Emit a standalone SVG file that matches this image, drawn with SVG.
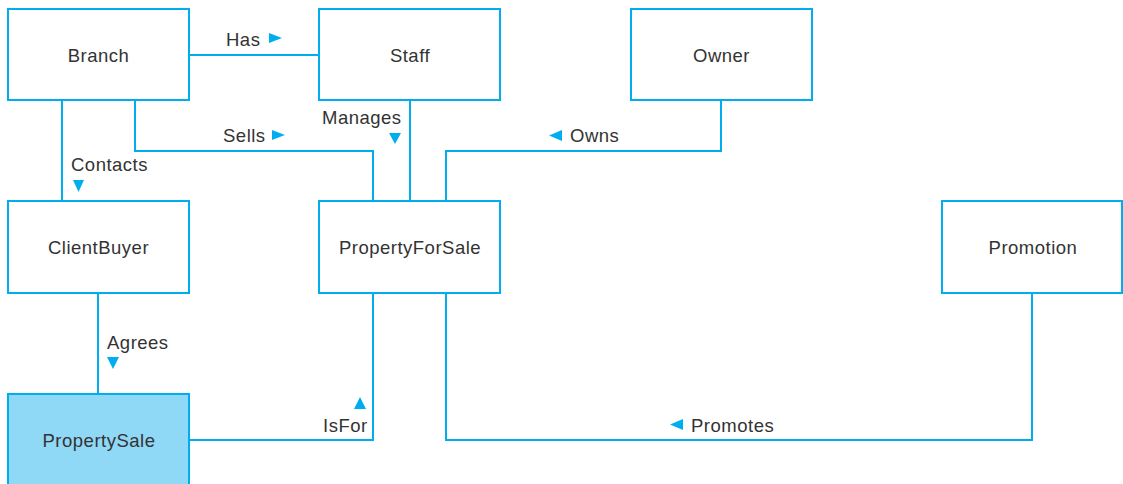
<svg xmlns="http://www.w3.org/2000/svg" width="1123" height="484" viewBox="0 0 1123 484">
<style>
.box{fill:#fff;stroke:#00aeef;stroke-width:2}
.sel{fill:#8fd8f6}
.ln{fill:none;stroke:#00aeef;stroke-width:2}
.t{font-family:"Liberation Sans",Arial,sans-serif;font-size:18.5px;letter-spacing:0.5px;fill:#333}
.c{text-anchor:middle}
.ar{fill:#00aeef}
</style>
<rect width="1123" height="484" fill="#fff"/>
<g id="connectors">
<path class="ln" d="M189 55H319"/>
<path class="ln" d="M62 100V201"/>
<path class="ln" d="M135 100V151H373V201"/>
<path class="ln" d="M410 100V201"/>
<path class="ln" d="M721 100V151H446V201"/>
<path class="ln" d="M98 293V394"/>
<path class="ln" d="M189 440H373V293"/>
<path class="ln" d="M446 293V440H1032V293"/>
<text class="t" x="226" y="46">Has</text>
<polygon class="ar" points="269,33 269,43 282,38"/>
<text class="t" x="71" y="171">Contacts</text>
<polygon class="ar" points="73,180 84,180 78.5,192"/>
<text class="t" x="223" y="142">Sells</text>
<polygon class="ar" points="272,130 272,140 285,135"/>
<text class="t" x="322" y="124">Manages</text>
<polygon class="ar" points="389,133 401,133 395,144"/>
<polygon class="ar" points="562,130 562,141 549,135.5"/>
<text class="t" x="570" y="142">Owns</text>
<text class="t" x="107" y="349">Agrees</text>
<polygon class="ar" points="107,357 119,357 113,369"/>
<text class="t" x="323" y="432">IsFor</text>
<polygon class="ar" points="354,409 366,409 360,397"/>
<polygon class="ar" points="683,419 683,430 670,424.5"/>
<text class="t" x="691" y="432">Promotes</text>
</g>
<g id="Branch"><rect class="box" x="8" y="9" width="181" height="91"/><text class="t c" x="98.5" y="62">Branch</text></g>
<g id="Staff"><rect class="box" x="319" y="9" width="181" height="91"/><text class="t c" x="410" y="62">Staff</text></g>
<g id="Owner"><rect class="box" x="631" y="9" width="181" height="91"/><text class="t c" x="721.5" y="62">Owner</text></g>
<g id="ClientBuyer"><rect class="box" x="8" y="201" width="181" height="92"/><text class="t c" x="98.5" y="254">ClientBuyer</text></g>
<g id="PropertyForSale"><rect class="box" x="319" y="201" width="181" height="92"/><text class="t c" x="410" y="254">PropertyForSale</text></g>
<g id="Promotion"><rect class="box" x="942" y="201" width="180" height="92"/><text class="t c" x="1033" y="254">Promotion</text></g>
<g id="PropertySale"><rect class="box sel" x="8" y="394" width="181" height="92"/><text class="t c" x="99" y="447">PropertySale</text></g>
</svg>
